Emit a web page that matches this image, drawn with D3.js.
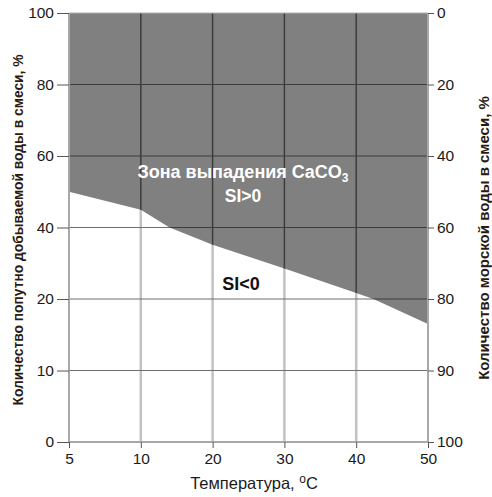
<!DOCTYPE html>
<html><head><meta charset="utf-8">
<script src="https://cdn.jsdelivr.net/npm/d3@7"></script>
<style>body{margin:0;background:#fff}svg{display:block}text{font-family:"Liberation Sans",Arial,sans-serif}</style>
</head><body>
<script>
const xTicks = [5, 10, 20, 30, 40, 50];
const yLeftTicks = [0, 10, 20, 40, 60, 80, 100];
const yRightTicks = [100, 90, 80, 60, 40, 20, 0];
const boundaryT = [5, 10, 14, 20, 30, 40, 42.4, 50];
const boundaryV = [50, 45, 40, 35.2, 28.5, 21.7, 20, 16.5];

const W = 492, H = 497;
const L = 69, R = 428, T = 13, B = 442;
const svg = d3.select("body").append("svg").attr("width", W).attr("height", H);

const xStep = (R - L) / (xTicks.length - 1);
const x = d3.scaleLinear().domain(xTicks).range(xTicks.map((d, i) => L + i * xStep));
const yStep = (B - T) / (yLeftTicks.length - 1);
const y = d3.scaleLinear().domain(yLeftTicks).range(yLeftTicks.map((d, i) => B - i * yStep));
const yR = d3.scaleLinear().domain(yRightTicks).range(yRightTicks.map((d, i) => B - i * yStep));

const pts = boundaryT.map((t, i) => [t, boundaryV[i]]);

// light grid (white zone)
const g0 = svg.append("g");
g0.selectAll("line.v").data(xTicks.slice(1, -1)).join("line")
  .attr("x1", d => x(d)).attr("x2", d => x(d)).attr("y1", T).attr("y2", B)
  .attr("stroke", "#c2c2c2").attr("stroke-width", 2.5);
g0.selectAll("line.h").data(yLeftTicks.slice(1, -1)).join("line")
  .attr("x1", L).attr("x2", R).attr("y1", d => y(d)).attr("y2", d => y(d))
  .attr("stroke", "#6e6e6e").attr("stroke-width", 1.2);

// fill zone
const area = d3.area().x(d => x(d[0])).y0(y(100)).y1(d => y(d[1]));
svg.append("path").datum(pts).attr("d", area).attr("fill", "#808080");
svg.append("clipPath").attr("id", "zone").append("path").datum(pts).attr("d", area);

// dark grid in zone
const g1 = svg.append("g").attr("clip-path", "url(#zone)");
g1.selectAll("line.v").data(xTicks.slice(1, -1)).join("line")
  .attr("x1", d => x(d)).attr("x2", d => x(d)).attr("y1", T).attr("y2", B)
  .attr("stroke", "#3c3c3c").attr("stroke-width", 1.5);
g1.selectAll("line.h").data(yLeftTicks.slice(1, -1)).join("line")
  .attr("x1", L).attr("x2", R).attr("y1", d => y(d)).attr("y2", d => y(d))
  .attr("stroke", "#3c3c3c").attr("stroke-width", 1.2);

// frame lines
svg.append("line").attr("x1", L).attr("x2", L).attr("y1", T).attr("y2", B).attr("stroke", "#a8a8a8").attr("stroke-width", 2);
svg.append("line").attr("x1", R).attr("x2", R).attr("y1", T).attr("y2", B).attr("stroke", "#a8a8a8").attr("stroke-width", 2);
svg.append("line").attr("x1", L).attr("x2", R).attr("y1", B).attr("y2", B).attr("stroke", "#a8a8a8").attr("stroke-width", 2);
svg.append("line").attr("x1", L).attr("x2", R).attr("y1", T).attr("y2", T).attr("stroke", "#b0b0b0").attr("stroke-width", 1);

// axes
const axL = d3.axisLeft(y).tickValues(yLeftTicks).tickSize(12).tickPadding(3).tickFormat(d3.format("d"));
const gL = svg.append("g").attr("transform", `translate(${L},0)`).call(axL);
const axRt = d3.axisRight(yR).tickValues(yRightTicks).tickSize(6).tickPadding(3).tickFormat(d3.format("d"));
const gR = svg.append("g").attr("transform", `translate(${R},0)`).call(axRt);
const axB = d3.axisBottom(x).tickValues(xTicks).tickSize(6).tickPadding(5).tickFormat(d3.format("d"));
const gB = svg.append("g").attr("transform", `translate(0,${B})`).call(axB);
[gL, gR, gB].forEach(g => {
  g.select(".domain").remove();
  g.selectAll(".tick line").attr("stroke", "#555").attr("stroke-width", 1);
  g.selectAll(".tick text").attr("fill", "#1a1a1a").style("font-size", "15.5px")
    .style("font-family", '"Liberation Sans",Arial,sans-serif');
});

// axis titles
svg.append("text").attr("x", 254).attr("y", 489).attr("text-anchor", "middle")
  .style("font-size", "16.5px").attr("fill", "#1a1a1a")
  .html('Температура, <tspan dy="-6" font-size="12">o</tspan><tspan dy="6">C</tspan>');
svg.append("text").attr("transform", `translate(23,230) rotate(-90)`)
  .attr("text-anchor", "middle").style("font-size", "13.8px").style("font-weight", "bold").attr("fill", "#2a1a10")
  .text("Количество попутно добываемой воды в смеси, %");
svg.append("text").attr("transform", `translate(489,238) rotate(-90)`)
  .attr("text-anchor", "middle").style("font-size", "15px").style("font-weight", "bold").attr("fill", "#2a1a10")
  .text("Количество морской воды в смеси, %");

// zone labels
svg.append("text").attr("x", 243).attr("y", 178).attr("text-anchor", "middle")
  .style("font-size", "18px").style("font-weight", "bold").attr("fill", "#fff")
  .html('Зона выпадения CaCO<tspan dy="4" font-size="12">3</tspan>');
svg.append("text").attr("x", 243).attr("y", 202).attr("text-anchor", "middle")
  .style("font-size", "17.5px").style("font-weight", "bold").attr("fill", "#fff").text("SI>0");
svg.append("text").attr("x", 241).attr("y", 290).attr("text-anchor", "middle")
  .style("font-size", "18px").style("font-weight", "bold").attr("fill", "#111").text("SI<0");
</script>
</body></html>
